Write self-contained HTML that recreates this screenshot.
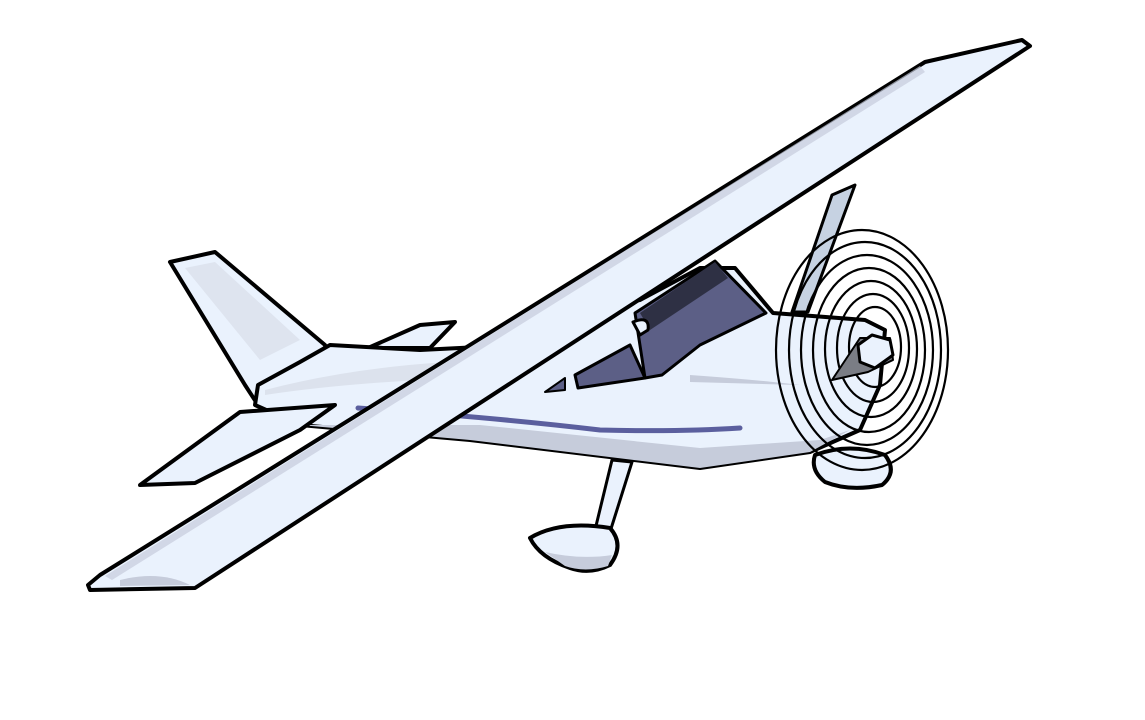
<!DOCTYPE html>
<html><head><meta charset="utf-8"><style>html,body{margin:0;padding:0;background:#fff}svg{display:block}</style></head>
<body>
<svg width="1145" height="720" viewBox="0 0 1145 720" xmlns="http://www.w3.org/2000/svg" stroke-linejoin="round" stroke-linecap="round">
<rect width="1145" height="720" fill="#fff"/>
<g>
<path d="M170,262 L215,252 L325,345 L330,380 L258,405 L245,385 Z" fill="#eaf2fd" stroke="#000" stroke-width="4"/>
<path d="M185,268 L215,262 L300,340 L260,360 Z" fill="#d5dbe6" opacity="0.6"/>
</g>
<g>
<path d="M368,348 L420,325 L455,322 L430,348 Z" fill="#eaf2fd" stroke="#000" stroke-width="4"/>
</g>
<g>
<path d="M832,195 L855,185 L808,312 L792,312 Z" fill="#c6d2e2" stroke="#000" stroke-width="3"/>
</g>
<g>
<path d="M255,405 L258,385 L300,362 L330,345 L420,350 L520,345 L560,312 L640,300 L700,268 L735,268 L773,313 L865,320 L885,330 L880,385 L860,430 L810,452 L700,468 L470,440 L300,425 Z" fill="#eaf2fd" stroke="#000" stroke-width="4"/>
<path d="M300,425 L470,440 L700,468 L810,452 L850,430 L820,440 L700,448 L480,425 Z" fill="#c6ccdb"/>
<path d="M265,390 Q380,360 520,360 L420,380 Q330,385 265,395 Z" fill="#d5dbe6" opacity="0.7"/>
<path d="M690,375 Q760,380 800,385 L690,382 Z" fill="#c6ccdb"/>
</g>
<g>
<path d="M635,313 L715,261 L766,313 L700,345 L662,375 L645,378 Z" fill="#5c5f86" stroke="#000" stroke-width="3"/>
<path d="M640,313 L715,262 L728,278 L650,330 Z" fill="#2e3044"/>
<path d="M578,388 L575,375 L630,345 L645,378 Z" fill="#5c5f86" stroke="#000" stroke-width="3"/>
<path d="M545,392 L565,378 L565,390 Z" fill="#5c5f86" stroke="#000" stroke-width="2"/>
</g>
<path d="M358,408 Q500,418 600,430 Q680,432 740,428" fill="none" stroke="#5b5f9e" stroke-width="5"/>
<g>
<path d="M140,485 L240,412 L335,405 L300,430 L195,483 Z" fill="#eaf2fd" stroke="#000" stroke-width="4"/>
</g>
<g>
<path d="M612,460 L632,462 L610,532 L595,530 Z" fill="#eaf2fd" stroke="#000" stroke-width="3"/>
<path d="M530,538 Q560,520 610,528 Q625,545 610,565 Q590,575 570,568 Q540,558 530,538 Z" fill="#eaf2fd" stroke="#000" stroke-width="4"/>
<path d="M545,552 Q580,560 612,555 L608,566 Q585,573 565,566 Z" fill="#c6ccdb"/>
<path d="M815,455 Q850,442 885,455 Q898,472 882,485 Q850,492 825,482 Q810,470 815,455 Z" fill="#eaf2fd" stroke="#000" stroke-width="4"/>
</g>
<g>
<path d="M88,585 L100,575 L925,62 L1022,40 L1030,46 L195,588 L90,590 Z" fill="#eaf2fd" stroke="#000" stroke-width="4"/>
<path d="M105,576 L920,66 L925,72 L112,580 Z" fill="#c6ccdb" opacity="0.7"/>
<path d="M120,580 Q160,570 190,585 L120,586 Z" fill="#c6ccdb"/>
<path d="M633,322 Q650,315 648,330 L640,335 Z" fill="#eaf2fd" stroke="#000" stroke-width="3"/>
</g>
<g fill="none" stroke="#000" stroke-width="2.2">
<ellipse cx="862" cy="350" rx="86" ry="120"/>
<ellipse cx="865" cy="350" rx="76" ry="108"/>
<ellipse cx="867" cy="350" rx="66" ry="95"/>
<ellipse cx="869" cy="350" rx="56" ry="82"/>
<ellipse cx="871" cy="349" rx="46" ry="68"/>
<ellipse cx="873" cy="348" rx="36" ry="54"/>
<ellipse cx="875" cy="347" rx="26" ry="40"/>
</g>
<g>
<path d="M832,380 L860,338 L890,338 L893,360 L868,372 Z" fill="#7a7d85" stroke="#000" stroke-width="2"/>
<path d="M858,345 L872,335 L890,340 L893,355 L875,368 L860,362 Z" fill="#eaf2fd" stroke="#000" stroke-width="3"/>
</g>
</svg>
</body></html>
